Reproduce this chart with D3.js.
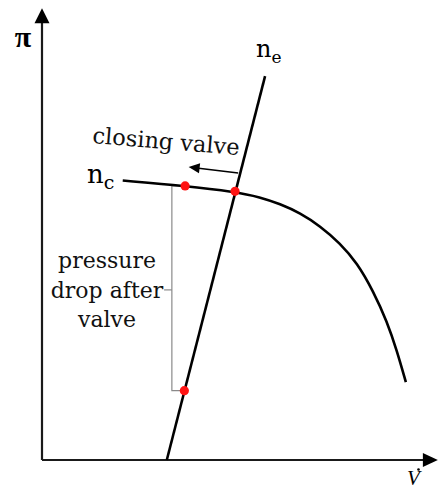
<!DOCTYPE html>
<html><head><meta charset="utf-8">
<script src="https://cdn.jsdelivr.net/npm/d3@7"></script>
<style>body{margin:0;background:#fff}svg{display:block}</style></head>
<body><svg id="c" width="438" height="490"></svg>
<script>
// Compressor characteristic n_c (volume flow, pressure ratio), arbitrary units 0..100
const compressorFlow     = [20.7, 36.7, 49.5, 56.0, 61.0, 66.2, 71.3, 76.4, 80.8, 84.9, 88.5, 91.0, 93.3];
const compressorPressure = [62.1, 60.9, 59.6, 58.4, 56.9, 54.9, 52.0, 48.2, 43.8, 37.6, 30.7, 24.3, 17.3];
// Engine / throttle line n_e
const engineFlow     = [32.0, 57.2];
const enginePressure = [0, 85.3];
// Marked operating points
const pointFlow     = [36.7, 49.5, 36.5];
const pointPressure = [60.9, 59.7, 15.4];
// Pressure-drop bracket
const bracketFlow = [36.7, 33.3, 33.3, 36.5];
const bracketPressure = [60.9, 60.9, 15.4, 15.4];
const bracketTickFlow = [31.3, 33.3];
const bracketTickPressure = [37.8, 37.8];
// Closing-valve arrow
const arrowFlow = [50.3, 37.6];
const arrowPressure = [63.8, 65.1];
// Axis extents
const axisMax = [101.5, 100.4];
const labelTexts = ["π", "V", "n", "e", "n", "c", "closing valve", ["pressure", "drop after", "valve"]];

const svg = d3.select("#c");
const x = d3.scaleLinear().domain([0, 100]).range([42, 432]);
const y = d3.scaleLinear().domain([0, 100]).range([460, 10]);
const serif = "'DejaVu Serif', serif";

// Axes
svg.append("line").attr("x1", x(0)).attr("y1", y(0)).attr("x2", x(0)).attr("y2", y(axisMax[1]) + 12)
  .attr("stroke", "#1a1a1a").attr("stroke-width", 2.2);
svg.append("line").attr("x1", x(0)).attr("y1", y(0)).attr("x2", x(axisMax[0]) - 12).attr("y2", y(0))
  .attr("stroke", "#1a1a1a").attr("stroke-width", 2.2);
const ty = y(axisMax[1]);
svg.append("path").attr("d", `M${x(0)},${ty} L${x(0)-7.5},${ty+15} L${x(0)+7.5},${ty+15} Z`).attr("fill", "#000");
const tx = x(axisMax[0]);
svg.append("path").attr("d", `M${tx},${y(0)} L${tx-15},${y(0)-7} L${tx-15},${y(0)+7} Z`).attr("fill", "#000");

// Bracket
const lin = d3.line().x(d => x(d[0])).y(d => y(d[1]));
svg.append("path").attr("d", lin(d3.zip(bracketFlow, bracketPressure)))
  .attr("fill", "none").attr("stroke", "#8a8a8a").attr("stroke-width", 1.2);
svg.append("path").attr("d", lin(d3.zip(bracketTickFlow, bracketTickPressure)))
  .attr("fill", "none").attr("stroke", "#8a8a8a").attr("stroke-width", 1.2);

// Compressor curve
const curve = d3.line().x(d => x(d[0])).y(d => y(d[1])).curve(d3.curveBasis);
svg.append("path").attr("d", curve(d3.zip(compressorFlow, compressorPressure)))
  .attr("fill", "none").attr("stroke", "#000").attr("stroke-width", 2.6);

// Engine line
svg.append("path").attr("d", lin(d3.zip(engineFlow, enginePressure)))
  .attr("fill", "none").attr("stroke", "#000").attr("stroke-width", 2.6);

// Points
svg.selectAll("circle.pt").data(d3.zip(pointFlow, pointPressure)).join("circle")
  .attr("class", "pt").attr("cx", d => x(d[0])).attr("cy", d => y(d[1])).attr("r", 4.6).attr("fill", "#ff1414");

// Closing valve arrow
const a0 = [x(arrowFlow[0]), y(arrowPressure[0])], a1 = [x(arrowFlow[1]), y(arrowPressure[1])];
const ang = Math.atan2(a1[1]-a0[1], a1[0]-a0[0]);
svg.append("line").attr("x1", a0[0]).attr("y1", a0[1]).attr("x2", a1[0] - 8*Math.cos(ang)).attr("y2", a1[1] - 8*Math.sin(ang))
  .attr("stroke", "#000").attr("stroke-width", 1.5);
const ah = (l, w) => {
  const bx = a1[0] - l*Math.cos(ang), by = a1[1] - l*Math.sin(ang);
  return `M${a1[0]},${a1[1]} L${bx - w*Math.sin(ang)},${by + w*Math.cos(ang)} L${bx + w*Math.sin(ang)},${by - w*Math.cos(ang)} Z`;
};
svg.append("path").attr("d", ah(11, 5)).attr("fill", "#000");

// Labels
svg.append("text").attr("x", 23).attr("y", 47).attr("text-anchor", "middle")
  .attr("font-family", "'Liberation Serif', serif").attr("font-weight", "bold").attr("font-size", 30).text(labelTexts[0]);
svg.append("text").attr("x", 407).attr("y", 485)
  .attr("font-family", "'Liberation Serif', serif").attr("font-style", "italic").attr("font-size", 21).text(labelTexts[1]);
svg.append("circle").attr("cx", 418.5).attr("cy", 469.5).attr("r", 1.3).attr("fill", "#000");

const ne = svg.append("text").attr("x", 256).attr("y", 57).attr("font-family", serif).attr("font-size", 24);
ne.append("tspan").text(labelTexts[2]);
ne.append("tspan").attr("dy", 6).attr("font-size", 17).text(labelTexts[3]);
const nc = svg.append("text").attr("x", 87).attr("y", 183).attr("font-family", serif).attr("font-size", 26);
nc.append("tspan").text(labelTexts[4]);
nc.append("tspan").attr("dy", 6).attr("font-size", 19).text(labelTexts[5]);

svg.append("text").attr("transform", "translate(92,143) rotate(4.7)")
  .attr("font-family", serif).attr("font-size", 22.5).attr("fill", "#111").text(labelTexts[6]);

const pd = svg.append("text").attr("font-family", serif).attr("font-size", 22).attr("text-anchor", "middle").attr("fill", "#111");
labelTexts[7].forEach((t, i) => pd.append("tspan").attr("x", 107).attr("y", 268 + i * 29.5).text(t));
</script></body></html>
